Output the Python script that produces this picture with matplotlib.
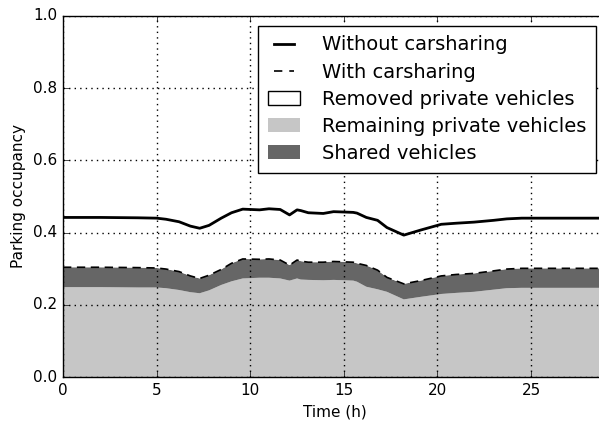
import matplotlib
matplotlib.use("Agg")
import matplotlib.pyplot as plt
import matplotlib.patches as mpatches
import matplotlib.lines as mlines
import numpy as np

plt.style.use('classic')

# time of day (h)
time_h = [0, 2, 4, 5.0, 5.5, 6.2, 6.8, 7.3, 7.8, 8.45, 9.0, 9.6, 10.5, 11.0, 11.6,
          12.1, 12.5, 12.7, 13.1, 13.9, 14.45, 15.0, 15.5, 15.7, 16.2, 16.8,
          17.3, 18.2, 19.1, 20.2, 21.0, 21.95, 23.0, 23.7, 24.5, 26, 28, 29]

without_cs = [0.442, 0.442, 0.441, 0.440, 0.437, 0.430, 0.418, 0.412, 0.420, 0.440,
              0.455, 0.465, 0.463, 0.466, 0.464, 0.449, 0.463, 0.461, 0.455, 0.453,
              0.458, 0.457, 0.456, 0.454, 0.442, 0.434, 0.414, 0.393, 0.407, 0.423,
              0.426, 0.429, 0.434, 0.438, 0.440, 0.440, 0.440, 0.440]

with_cs = [0.304, 0.304, 0.303, 0.302, 0.299, 0.292, 0.280, 0.273, 0.282, 0.298,
           0.315, 0.327, 0.326, 0.327, 0.324, 0.310, 0.324, 0.321, 0.318, 0.318,
           0.320, 0.319, 0.318, 0.315, 0.309, 0.296, 0.276, 0.258, 0.267, 0.280,
           0.284, 0.287, 0.294, 0.299, 0.301, 0.301, 0.301, 0.301]

remaining = [0.249, 0.249, 0.248, 0.248, 0.246, 0.241, 0.235, 0.232, 0.240, 0.255,
             0.265, 0.273, 0.275, 0.275, 0.273, 0.267, 0.273, 0.270, 0.269, 0.268,
             0.269, 0.268, 0.267, 0.264, 0.250, 0.243, 0.236, 0.215, 0.222, 0.230,
             0.233, 0.236, 0.242, 0.246, 0.247, 0.247, 0.247, 0.247]

light = '#c6c6c6'
dark = '#666666'

fig = plt.figure(figsize=(5.99, 4.25), dpi=100, facecolor='white')
ax = fig.add_axes([63 / 599, 48 / 425, 543 / 599, 361 / 425])

t = np.array(time_h)
ax.fill_between(t, 0, remaining, facecolor=light, edgecolor='none')
ax.fill_between(t, remaining, with_cs, facecolor=dark, edgecolor='none')
ax.fill_between(t, with_cs, without_cs, facecolor='white', edgecolor='none')
ax.plot(t, without_cs, color='black', lw=2)
ax.plot(t, with_cs, color='black', lw=1.2, ls='--', dashes=(6, 4))

ax.set_xlim(0, 29)
ax.set_ylim(0, 1.0)
ax.set_xticks([0, 5, 10, 15, 20, 25])
ax.set_yticks([0.0, 0.2, 0.4, 0.6, 0.8, 1.0])
ax.grid(True, color='black', linestyle=':', linewidth=1)
ax.tick_params(labelsize=11)
ax.set_xlabel('Time (h)', fontsize=11)
ax.set_ylabel('Parking occupancy', fontsize=11)

handles = [
    mlines.Line2D([], [], color='black', lw=2),
    mlines.Line2D([], [], color='black', lw=1.2, ls='--', dashes=(6, 5)),
    mpatches.Patch(facecolor='white', edgecolor='black'),
    mpatches.Patch(facecolor=light, edgecolor='none'),
    mpatches.Patch(facecolor=dark, edgecolor='none'),
]
labels = ['Without carsharing', 'With carsharing', 'Removed private vehicles',
          'Remaining private vehicles', 'Shared vehicles']
ax.legend(handles, labels, loc='upper right', fontsize=14, frameon=True,
          fancybox=False, labelspacing=0.42, handlelength=1.65,
          handletextpad=1.15, borderpad=0.5)

fig.savefig('out.png', dpi=100, facecolor='white')
